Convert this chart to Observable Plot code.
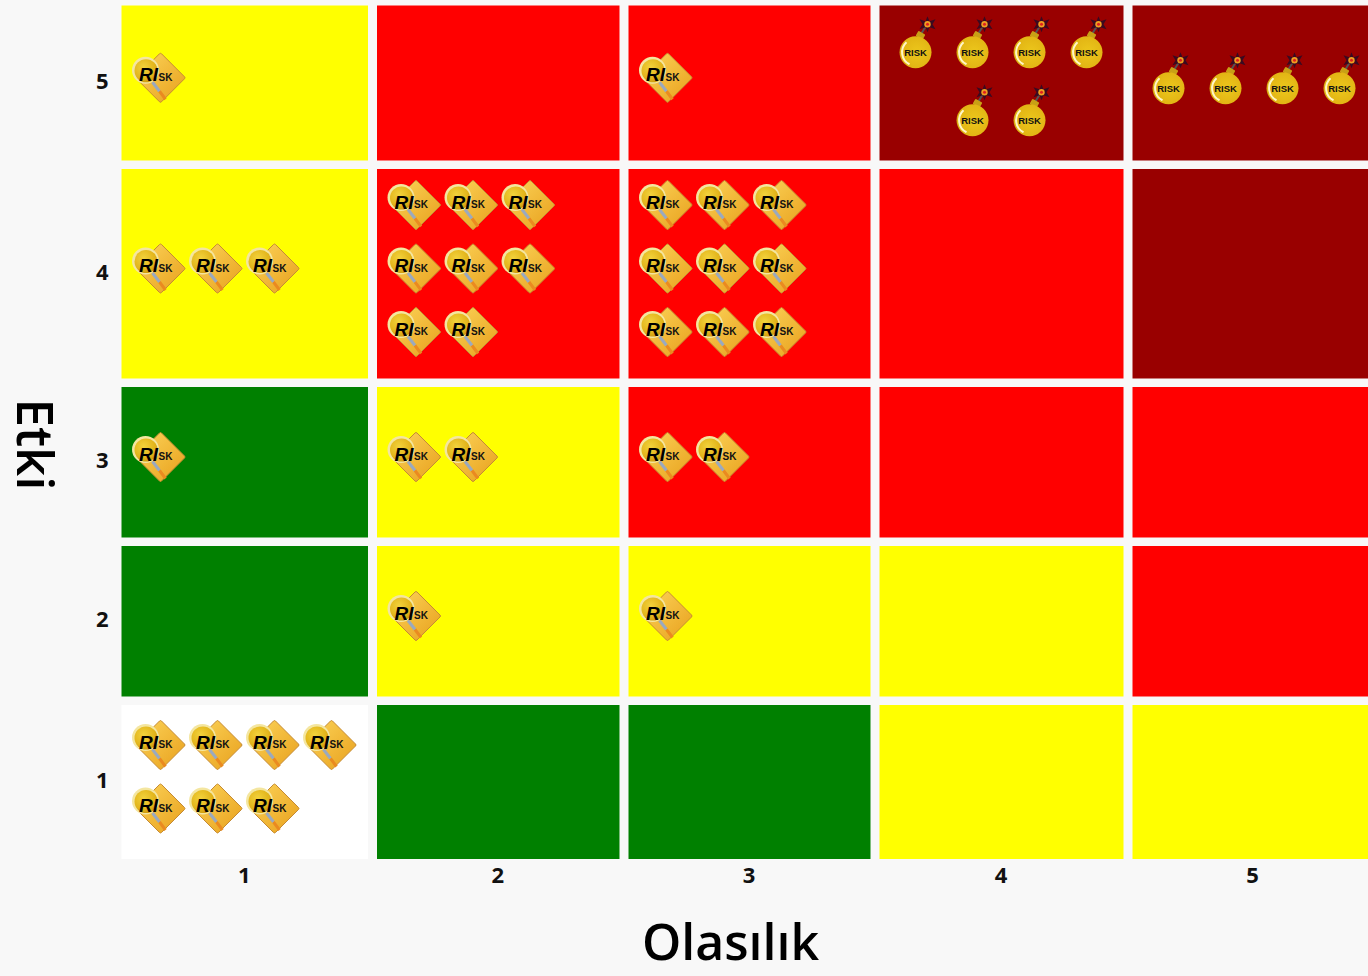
<!DOCTYPE html>
<html>
<head>
<meta charset="utf-8">
<style>html,body{margin:0;padding:0;background:#f8f8f8;overflow:hidden}svg{display:block}</style>
<script src="https://cdn.jsdelivr.net/npm/d3@7"></script>
<script src="https://cdn.jsdelivr.net/npm/@observablehq/plot@0.6"></script>
</head>
<body>
<div id="chart"></div>
<script>
const xLabel = "Olasılık";
const yLabel = "Etki";
const levels = [1, 2, 3, 4, 5];
// relative span of each column / row, in drawing order of the levels
const colSpans = [255.5, 251.5, 251, 253, 250];
const rowSpans = [162.5, 159, 159, 218, 163.5];

// colour of each cell, row 5 first, columns 1..5
const cellGrid = [
  ["yellow", "red", "red", "dark", "dark"],
  ["yellow", "red", "red", "red", "dark"],
  ["green", "yellow", "red", "red", "red"],
  ["green", "yellow", "yellow", "yellow", "red"],
  ["white", "green", "green", "yellow", "yellow"]
];
const cellKeys = ["green", "yellow", "red", "dark", "white"];
const cellColors = ["#008000", "#ffff00", "#ff0000", "#990000", "#ffffff"];

// risk icons: [col, row, count, per line]
const riskCounts = [
  [1,5,1,4],[3,5,1,3],[1,4,3,3],[2,4,8,3],[3,4,9,3],
  [1,3,1,3],[2,3,2,3],[3,3,2,3],[2,2,1,3],[3,2,1,3],[1,1,7,4]
];
// bomb icons: [col, row, slot across, line, lines in cell]
const bombSlots = [
  [4,5,0,0,2],[4,5,1,0,2],[4,5,2,0,2],[4,5,3,0,2],[4,5,1,1,2],[4,5,2,1,2],
  [5,5,0,0,1],[5,5,1,0,1],[5,5,2,0,1],[5,5,3,0,1]
];

const colStart = d3.cumsum([0, ...colSpans]);
const rowStart = d3.cumsum([0, ...rowSpans]);
const colMid = levels.map((_, i) => colStart[i] + colSpans[i] / 2);
const rowMid = levels.map((_, i) => rowStart[i] + rowSpans[i] / 2);

const cells = cellGrid.flatMap((r, i) => r.map((k, j) => ({col: j + 1, row: 5 - i, key: k})));

const riskSvg = `<svg xmlns="http://www.w3.org/2000/svg" width="56" height="52" viewBox="0 0 56 52">
<defs><linearGradient id="g" x1="0" y1="0" x2="1" y2="1"><stop offset="0" stop-color="#fcd45a"/><stop offset="1" stop-color="#e8a01c"/></linearGradient>
<radialGradient id="l" cx=".4" cy=".35" r=".7"><stop offset="0" stop-color="#f2d23c"/><stop offset=".7" stop-color="#e2b41a"/><stop offset="1" stop-color="#c9960f"/></radialGradient></defs>
<path d="M28 1.5 Q29 .5 30 1.5 L53 24.5 Q54 25.5 53 26.5 L30 49.5 Q29 50.5 28 49.5 L5 26.5 Q4 25.5 5 24.5 Z" fill="url(#g)" stroke="#c48a35" stroke-width="1"/>
<path d="M21 30 L28 39" stroke="#9aa9bf" stroke-width="3"/><path d="M28 39 L34 47" stroke="#ea8a20" stroke-width="3"/>
<circle cx="14" cy="18" r="13.5" fill="#f4e6a0"/><circle cx="14.5" cy="18.5" r="11.5" fill="url(#l)"/>
</svg>`;
const bombSvg = `<svg xmlns="http://www.w3.org/2000/svg" width="40" height="56" viewBox="0 0 40 56">
<defs><radialGradient id="b" cx=".55" cy=".5" r=".6"><stop offset="0" stop-color="#ecc71c"/><stop offset=".85" stop-color="#e2b414"/><stop offset="1" stop-color="#b98a0a"/></radialGradient></defs>
<path d="M25 17 L30 9" stroke="#555" stroke-width="2"/>
<path d="M31 0 L33 5 L39 3 L36 8 L39 13 L33 11 L31 16 L29 11 L23 13 L26 8 L23 3 L29 5 Z" fill="#3a0a20"/>
<circle cx="31" cy="8" r="3.2" fill="#f0a020"/><circle cx="31" cy="8" r="1.5" fill="#e02020"/>
<rect x="20" y="16" width="8" height="6" rx="1" transform="rotate(30 24 19)" fill="#c9a015"/>
<circle cx="19" cy="36" r="16" fill="url(#b)"/>
<path d="M10 26 A13.5 13.5 0 0 0 13 48" fill="none" stroke="#fff6c8" stroke-width="2"/>
</svg>`;
const toUri = s => "data:image/svg+xml;charset=utf-8," + encodeURIComponent(s);

const marks = [
  Plot.rect(cells, {
    x1: d => colStart[d.col - 1], x2: d => colStart[d.col],
    y1: d => rowStart[d.row - 1], y2: d => rowStart[d.row],
    fill: d => cellColors[cellKeys.indexOf(d.key)],
    insetLeft: 4.5, insetRight: 4.5, insetTop: 4.5, insetBottom: 4
  }),
  Plot.axisX({ticks: colMid, tickSize: 0, tickPadding: 4, label: null, fontSize: 22, fontWeight: "bold", fontFamily: "Noto Sans", tickFormat: (d, i) => levels[i], dx: -1}),
  Plot.axisY({ticks: rowMid, tickSize: 0, tickPadding: 9, label: null, fontSize: 22, fontWeight: "bold", fontFamily: "Noto Sans", tickFormat: (d, i) => levels[i], dy: -1.5}),
  Plot.text([xLabel], {frameAnchor: "bottom", dx: -12.5, dy: 96, fontSize: 50, fontWeight: 600, fontFamily: "Open Sans", fill: "#000", textAnchor: "middle"}),
  Plot.text([yLabel], {frameAnchor: "left", dx: -84, dy: 12, rotate: 90, fontSize: 51, fontWeight: 600, fontFamily: "Open Sans", fill: "#000", textAnchor: "middle", letterSpacing: 1}) 
];

// risk icons, one layer per slot offset
for (const [col, row, count, perLine] of riskCounts) {
  const lines = Math.ceil(count / perLine);
  for (let i = 0; i < count; i++) {
    const across = i % perLine, line = Math.floor(i / perLine);
    const dx = 42 + across * 57;
    const dy = -5 + (line - (lines - 1) / 2) * 63.5;
    const at = {x: () => colStart[col - 1], y: () => rowMid[row - 1]};
    marks.push(
      Plot.image([{col, row}], {...at, dx, dy, src: toUri(riskSvg), width: 56, height: 52}),
      Plot.text(["RI"], {...at, dx: dx - 11, dy: dy - 3, fontSize: 19, fontWeight: "bold", fontStyle: "italic", fontFamily: "Liberation Sans", fill: "#000"}),
      Plot.text(["SK"], {...at, dx: dx + 6, dy: dy - 0.5, fontSize: 10, fontWeight: "bold", fontFamily: "Liberation Sans", fill: "#111", letterSpacing: 0.5})
    );
  }
}
for (const [col, row, across, line, lines] of bombSlots) {
  const dx = 40 + across * 57;
  const dy = lines === 1 ? 6 : 4 + (line - 0.5) * 68;
  const at = {x: () => colStart[col - 1], y: () => rowMid[row - 1]};
  marks.push(
    Plot.image([{col, row}], {...at, dx: dx + 1, dy: dy - 9, src: toUri(bombSvg), width: 40, height: 56}),
    Plot.text(["RISK"], {...at, dx, dy, fontSize: 9.5, fontWeight: "bold", fontFamily: "Liberation Sans", fill: "#111"})
  );
}

const chart = Plot.plot({
  width: 1368,
  height: 976,
  marginLeft: 117,
  marginRight: 0,
  marginTop: 1,
  marginBottom: 113,
  style: {background: "#f8f8f8", color: "#111"},
  x: {domain: [0, d3.sum(colSpans)], range: [117, 1378], axis: null},
  y: {domain: [0, d3.sum(rowSpans)], range: [863, 1], axis: null},
  marks
});
document.getElementById("chart").appendChild(chart);
</script>
</body>
</html>
